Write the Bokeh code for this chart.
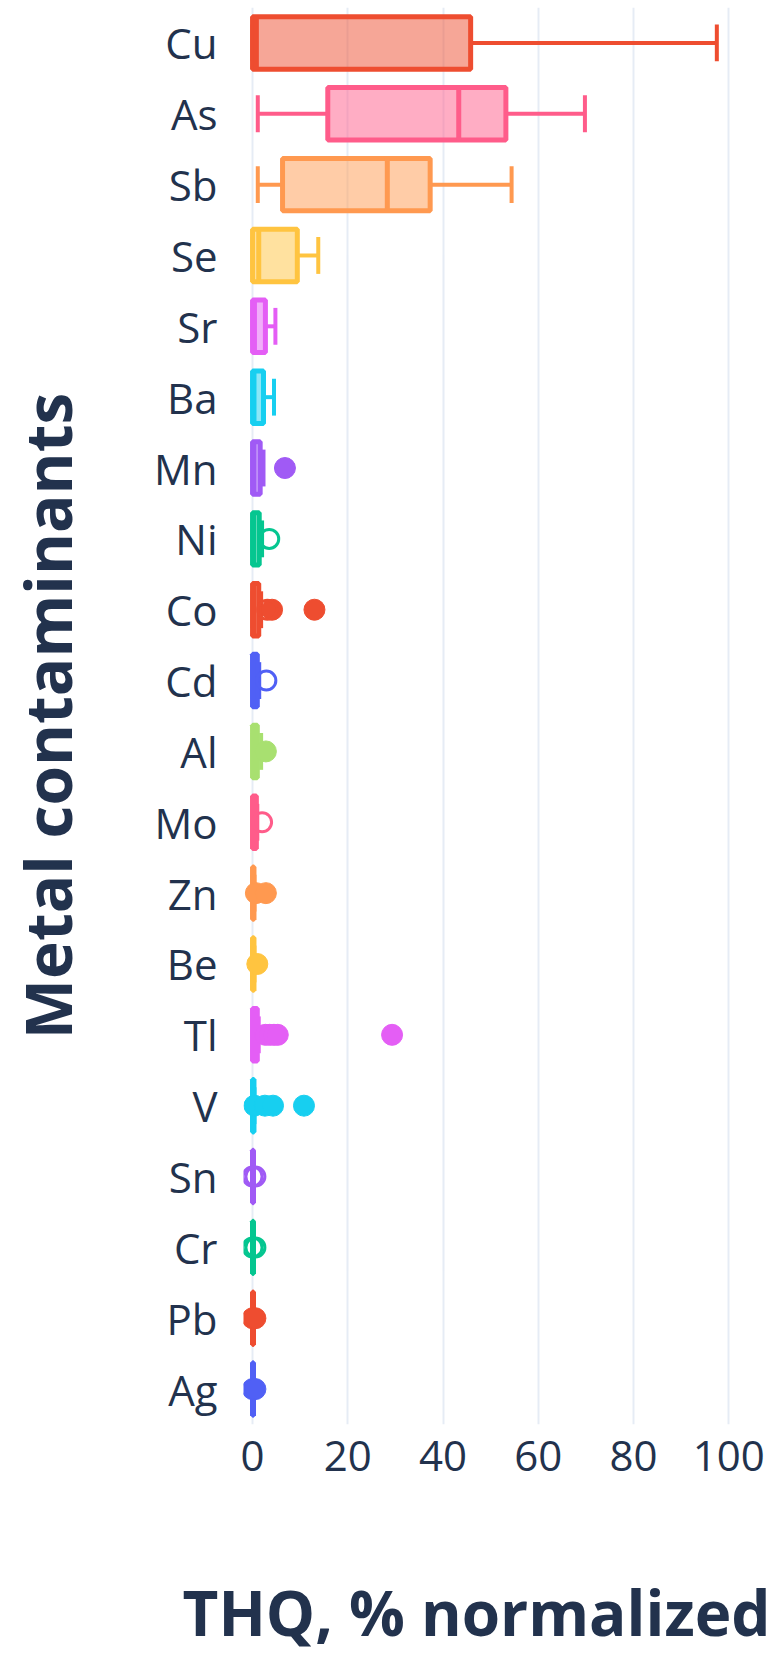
from bokeh.plotting import figure
from bokeh.models import Range1d, FixedTicker, ColumnDataSource, Title
from bokeh.embed import file_html
from bokeh.resources import INLINE

# ---- data (top to bottom) ----
cats = ["Cu", "As", "Sb", "Se", "Sr", "Ba", "Mn", "Ni", "Co", "Cd",
        "Al", "Mo", "Zn", "Be", "Tl", "V", "Sn", "Cr", "Pb", "Ag"]
q_min = [0.0, 1.1, 1.1, 0.0, 0.0, 0.0, 0.0, 0.0, 0.0, 0.0,
         0.0, 0.0, 0.0, 0.0, 0.0, 0.0, 0.0, 0.0, 0.0, 0.0]
q1 = [0.0, 15.8, 6.3, 0.0, 0.0, 0.0, 0.0, 0.0, 0.0, 0.0,
      0.0, 0.0, 0.0, 0.0, 0.0, 0.0, 0.0, 0.0, 0.0, 0.0]
med = [0.8, 43.3, 28.3, 1.3, 0.4, 0.3, 0.3, 0.2, 0.2, 0.1,
       0.2, 0.1, 0.1, 0.05, 0.1, 0.05, 0.0, 0.0, 0.0, 0.0]
q3 = [45.8, 53.2, 37.3, 9.4, 2.7, 2.3, 1.6, 1.4, 1.3, 1.0,
      1.0, 0.8, 0.3, 0.3, 1.0, 0.3, 0.2, 0.2, 0.2, 0.2]
q_max = [97.5, 69.8, 54.4, 13.8, 4.8, 4.5, 2.3, 2.0, 1.8, 1.4,
         1.8, 1.0, 0.4, 0.4, 1.3, 0.4, 0.3, 0.3, 0.3, 0.3]
colors = ["#EE4D30", "#FF5C8A", "#FF9950", "#FFC440", "#E45EF5",
          "#17CFF0", "#A05AF5", "#05C690", "#EE4D30", "#5060F5",
          "#A8E070", "#FF5C8A", "#FF9950", "#FFC440", "#E45EF5",
          "#17CFF0", "#A05AF5", "#05C690", "#EE4D30", "#5060F5"]

# outliers: filled and hollow
out_cat = ["Mn", "Co", "Co", "Al", "Zn", "Zn", "Be",
           "Tl", "Tl", "Tl", "Tl", "Tl",
           "V", "V", "V", "V", "Pb", "Pb", "Ag", "Ag"]
out_val = [6.8, 4.1, 13.0, 2.8, 0.7, 2.8, 1.0,
           2.7, 3.6, 4.5, 5.3, 29.3,
           0.4, 2.6, 4.3, 10.8, 0.0, 0.6, 0.0, 0.6]
hol_cat = ["Ni", "Co", "Cd", "Mo", "Sn", "Sn", "Cr", "Cr"]
hol_val = [3.5, 3.1, 2.9, 2.0, 0.0, 0.6, 0.0, 0.6]

xticks = [0, 20, 40, 60, 80, 100]
x_title = "THQ, % normalized"
y_title = "Metal contaminants"

# ---- geometry helpers ----
n = len(cats)
ypos = {c: n - 1 - i for i, c in enumerate(cats)}
col = dict(zip(cats, colors))
BOX_H = 0.74
CAP = 0.26
LW = 5
txt = "#22324d"

ys = [ypos[c] for c in cats]
box_src = ColumnDataSource(dict(y=ys, q1=q1, q3=q3, med=med, lo=q_min, hi=q_max,
                                color=colors,
                                top=[y + BOX_H / 2 for y in ys],
                                bot=[y - BOX_H / 2 for y in ys],
                                ctop=[y + CAP for y in ys],
                                cbot=[y - CAP for y in ys]))

p = figure(width=776, height=1661, output_backend="svg", toolbar_location=None,
           x_range=Range1d(-1.9, 101.0), y_range=Range1d(-0.5, n - 0.5),
           min_border_left=242, min_border_right=43, min_border_top=7,
           min_border_bottom=237)
p.outline_line_color = None
p.background_fill_color = "white"

p.xgrid.grid_line_color = "#E6ECF5"
p.xgrid.grid_line_width = 2
p.ygrid.visible = False

p.xaxis.ticker = FixedTicker(ticks=xticks)
p.yaxis.ticker = FixedTicker(ticks=list(range(n)))
p.yaxis.major_label_overrides = {ypos[c]: c for c in cats}

for ax in (p.xaxis[0], p.yaxis[0]):
    ax.axis_line_color = None
    ax.major_tick_line_color = None
    ax.minor_tick_line_color = None
    ax.major_label_text_font = "Open Sans"
    ax.major_label_text_font_size = "42px"
    ax.major_label_text_color = txt
    ax.axis_label_text_font = "Open Sans"
    ax.axis_label_text_font_style = "bold"
    ax.axis_label_text_font_size = "64px"
    ax.axis_label_text_color = txt

p.yaxis.axis_label = y_title
p.yaxis.major_label_standoff = 20
p.yaxis.axis_label_standoff = 60
p.xaxis.major_label_standoff = 10

# spacer panel below the x axis, then the x-axis title (left aligned)
p.add_layout(Title(text=" ", text_font_size="2px", standoff=100), "below")
p.add_layout(Title(text=x_title, align="left", offset=-61, standoff=-20,
                   vertical_align="bottom",
                   text_font="Open Sans", text_font_style="bold",
                   text_font_size="62px", text_color=txt), "below")

# whiskers
p.segment(x0="q3", y0="y", x1="hi", y1="y", source=box_src, line_color="color", line_width=4)
p.segment(x0="lo", y0="y", x1="q1", y1="y", source=box_src, line_color="color", line_width=4)
p.segment(x0="hi", y0="cbot", x1="hi", y1="ctop", source=box_src, line_color="color", line_width=4)
p.segment(x0="lo", y0="cbot", x1="lo", y1="ctop", source=box_src, line_color="color", line_width=4)
# boxes
p.quad(left="q1", right="q3", bottom="bot", top="top", source=box_src,
       fill_color="color", fill_alpha=0.5, line_color="color", line_width=LW)
# medians
p.segment(x0="med", y0="bot", x1="med", y1="top", source=box_src, line_color="color", line_width=LW)

# outliers
out_src = ColumnDataSource(dict(x=out_val, y=[ypos[c] for c in out_cat],
                                color=[col[c] for c in out_cat]))
p.scatter(x="x", y="y", source=out_src, marker="circle", size=21,
          fill_color="color", line_color="color", line_width=1)
hol_src = ColumnDataSource(dict(x=hol_val, y=[ypos[c] for c in hol_cat],
                                color=[col[c] for c in hol_cat]))
p.scatter(x="x", y="y", source=hol_src, marker="circle", size=19,
          fill_color=None, line_color="color", line_width=3)

open("out.html", "w").write(file_html(p, INLINE))
